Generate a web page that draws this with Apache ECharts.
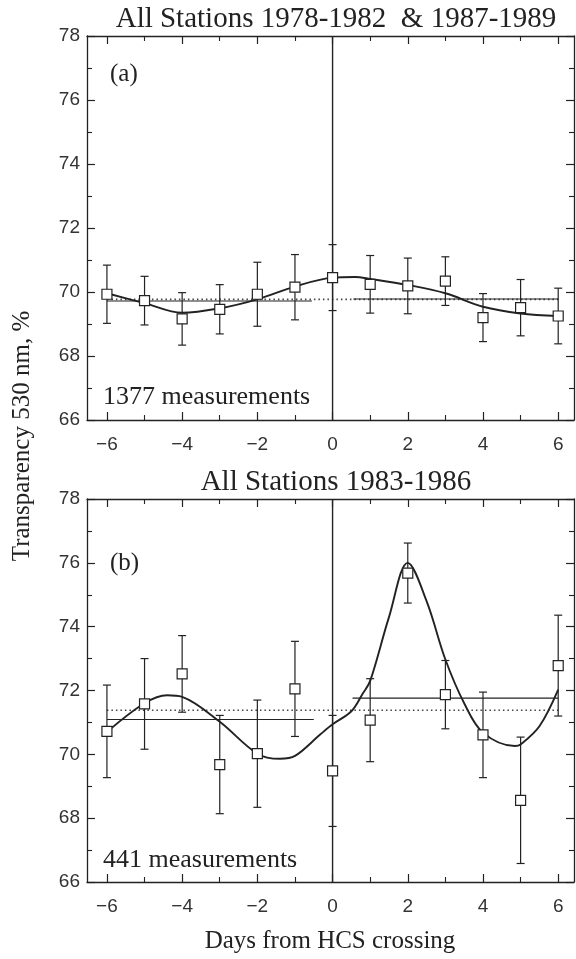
<!DOCTYPE html>
<html>
<head>
<meta charset="utf-8">
<script src="https://cdn.jsdelivr.net/npm/echarts@6/dist/echarts.min.js"></script>
<style>
  html, body { margin: 0; padding: 0; background: #fff; }
  #chart { width: 576px; height: 959px; }
</style>
</head>
<body>
<div id="chart"></div>
<script>
// ---------------- data ----------------
const days = [-6, -5, -4, -3, -2, -1, 0, 1, 2, 3, 4, 5, 6];
const majorTicks = [-6, -4, -2, 0, 2, 4, 6];
const minorTicks = [-5, -3, -1, 1, 3, 5];

// Panel (a): All Stations 1978-1982 & 1987-1989
const aMean = [69.93, 69.73, 69.16, 69.46, 69.93, 70.15, 70.45, 70.24, 70.19, 70.34, 69.20, 69.51, 69.25];
const aErr  = [0.91, 0.76, 0.82, 0.77, 1.00, 1.02, 1.03, 0.90, 0.87, 0.76, 0.75, 0.88, 0.87];
const aCurveX = [-6, -5, -4, -3, -2, -1, 0, 0.6, 1, 2, 3, 4, 5, 6];
const aCurveY = [69.96, 69.65, 69.35, 69.49, 69.77, 70.17, 70.45, 70.47, 70.41, 70.22, 69.96, 69.54, 69.33, 69.25];
const aLeftMean = 69.72, aRightMean = 69.78, aOverall = 69.77;

// Panel (b): All Stations 1983-1986
const bMean = [70.72, 71.58, 72.52, 69.68, 70.02, 72.05, 69.48, 71.07, 75.68, 71.87, 70.61, 68.56, 72.78];
const bErr  = [1.45, 1.42, 1.20, 1.54, 1.68, 1.49, 1.74, 1.30, 0.94, 1.07, 1.34, 1.98, 1.58];
const bCurveX = [-6, -5, -4.4, -4, -3, -2, -1.4, -1, -0.33, 0, 0.5, 0.8, 1, 1.5, 2, 2.5, 3, 3.5, 4, 4.85, 5, 5.5, 6];
const bCurveY = [70.7, 71.6, 71.85, 71.8, 71.02, 70.02, 69.86, 69.95, 70.62, 70.94, 71.35, 71.9, 72.3, 74.3, 76.0, 74.8, 72.97, 71.6, 70.68, 70.26, 70.31, 70.88, 72.03];
const bLeftMean = 71.09, bRightMean = 71.76, bOverall = 71.38;

// spans of the mean lines (days)
const leftSpanA = [-6, -0.55], rightSpanA = [0.55, 6];
const leftSpanB = [-6, -0.5], rightSpanB = [0.53, 6];
const fullSpan = [-6, 6];

const titles = ['All Stations 1978-1982  & 1987-1989', 'All Stations 1983-1986'];
const panelTags = ['(a)', '(b)'];
const counts = ['1377 measurements', '441 measurements'];

// ---------------- chart ----------------
const INK = '#222';
const SERIF = '"Liberation Serif", "Times New Roman", serif';
const SANS = '"Liberation Sans", Arial, sans-serif';
const XMIN = -6.53, XMAX = 6.42;

const grids = [
  { left: 87, top: 36, width: 487, height: 384 },
  { left: 87, top: 499, width: 487, height: 383 }
];

function fmt(v) { return v < 0 ? '\u2212' + Math.abs(v) : String(v); }

const xAxes = [], yAxes = [];
grids.forEach((g, gi) => {
  ['bottom', 'top'].forEach(pos => {
    xAxes.push({
      type: 'value', gridIndex: gi, position: pos, min: XMIN, max: XMAX,
      axisLine: { show: true, onZero: false, lineStyle: { color: INK, width: 1.3 } },
      axisTick: { show: true, inside: true, length: 8, customValues: majorTicks, lineStyle: { color: INK, width: 1.2 } },
      axisLabel: pos === 'bottom' ? { show: true, customValues: majorTicks, formatter: fmt, margin: 15, fontFamily: SANS, fontSize: 19, color: '#333' } : { show: false },
      splitLine: { show: false }
    });
    xAxes.push({
      type: 'value', gridIndex: gi, position: pos, min: XMIN, max: XMAX,
      axisLine: { show: false, onZero: false },
      axisTick: { show: true, inside: true, length: 5, customValues: minorTicks, lineStyle: { color: INK, width: 1.1 } },
      axisLabel: { show: false },
      splitLine: { show: false }
    });
  });
  ['left', 'right'].forEach(pos => {
    yAxes.push({
      type: 'value', gridIndex: gi, position: pos, min: 66, max: 78, interval: 2,
      axisLine: { show: true, onZero: false, lineStyle: { color: INK, width: 1.3 } },
      axisTick: { show: true, inside: true, length: 8, lineStyle: { color: INK, width: 1.2 } },
      minorTick: { show: true, splitNumber: 2, length: 5, lineStyle: { color: INK, width: 1.1 } },
      axisLabel: pos === 'left' ? { show: true, margin: 7, fontFamily: SANS, fontSize: 19, color: '#333' } : { show: false },
      splitLine: { show: false }
    });
  });
});

function errorBarSeries(gi, means, errs) {
  return {
    type: 'custom', xAxisIndex: gi * 4, yAxisIndex: gi * 2, z: 3,
    data: days.map((d, i) => [d, means[i] - errs[i], means[i] + errs[i]]),
    renderItem: function (params, api) {
      const x = api.value(0);
      const top = api.coord([x, api.value(2)]);
      const bot = api.coord([x, api.value(1)]);
      const w = 4;
      const st = { stroke: INK, lineWidth: 1.2 };
      return {
        type: 'group', children: [
          { type: 'line', shape: { x1: top[0], y1: top[1], x2: bot[0], y2: bot[1] }, style: st },
          { type: 'line', shape: { x1: top[0] - w, y1: top[1], x2: top[0] + w, y2: top[1] }, style: st },
          { type: 'line', shape: { x1: bot[0] - w, y1: bot[1], x2: bot[0] + w, y2: bot[1] }, style: st }
        ]
      };
    }
  };
}
function seg(gi, span, level, style, z) {
  return {
    type: 'line', xAxisIndex: gi * 4, yAxisIndex: gi * 2, symbol: 'none', silent: true, z: z || 2,
    data: [[span[0], level], [span[1], level]],
    lineStyle: style
  };
}
function panelSeries(gi, means, errs, cx, cy, lm, rm, om, ls, rs) {
  const xi = gi * 4, yi = gi * 2;
  return [
    { type: 'line', xAxisIndex: xi, yAxisIndex: yi, symbol: 'none', silent: true, z: 2,
      data: [[0, 66], [0, 78]], lineStyle: { color: INK, width: 1.4 } },
    seg(gi, fullSpan, om, { color: '#444', width: 1.6, type: [1.5, 3] }, 2),
    seg(gi, ls, lm, { color: INK, width: 1.1 }, 2),
    seg(gi, rs, rm, { color: INK, width: 1.1 }, 2),
    errorBarSeries(gi, means, errs),
    { type: 'line', xAxisIndex: xi, yAxisIndex: yi, symbol: 'none', silent: true, smooth: 0.35, z: 4,
      data: cx.map((x, i) => [x, cy[i]]), lineStyle: { color: INK, width: 1.9 } },
    { type: 'scatter', xAxisIndex: xi, yAxisIndex: yi, symbol: 'rect', symbolSize: 10, z: 5,
      data: days.map((d, i) => [d, means[i]]),
      itemStyle: { color: '#fff', borderColor: INK, borderWidth: 1.2, opacity: 1 } }
  ];
}

const series = [].concat(
  panelSeries(0, aMean, aErr, aCurveX, aCurveY, aLeftMean, aRightMean, aOverall, leftSpanA, rightSpanA),
  panelSeries(1, bMean, bErr, bCurveX, bCurveY, bLeftMean, bRightMean, bOverall, leftSpanB, rightSpanB)
);

const textStyle = (size) => ({ fontFamily: SERIF, fontSize: size, fill: INK });

const option = {
  backgroundColor: '#fff',
  animation: false,
  title: [
    { text: titles[0], left: 331, top: 0, textAlign: 'center', textStyle: { fontFamily: SERIF, fontSize: 29, fontWeight: 'normal', color: INK } },
    { text: titles[1], left: 331, top: 463, textAlign: 'center', textStyle: { fontFamily: SERIF, fontSize: 29, fontWeight: 'normal', color: INK } }
  ],
  grid: grids,
  xAxis: xAxes,
  yAxis: yAxes,
  series: series,
  graphic: [
    { type: 'text', left: 110, top: 62, style: Object.assign({ text: panelTags[0] }, textStyle(25)) },
    { type: 'text', left: 110, top: 551, style: Object.assign({ text: panelTags[1] }, textStyle(25)) },
    { type: 'text', left: 103, top: 384, style: Object.assign({ text: counts[0] }, textStyle(26)) },
    { type: 'text', left: 103, top: 847, style: Object.assign({ text: counts[1] }, textStyle(26)) },
    { type: 'text', x: 22, y: 436, rotation: Math.PI / 2,
      style: Object.assign({ text: 'Transparency 530 nm, %', textAlign: 'center', textVerticalAlign: 'middle' }, textStyle(25)) },
    { type: 'text', x: 330, y: 941,
      style: Object.assign({ text: 'Days from HCS crossing', textAlign: 'center', textVerticalAlign: 'middle' }, textStyle(25)) }
  ]
};

const chart = echarts.init(document.getElementById('chart'), null, { renderer: 'canvas' });
chart.setOption(option);
</script>
</body>
</html>
